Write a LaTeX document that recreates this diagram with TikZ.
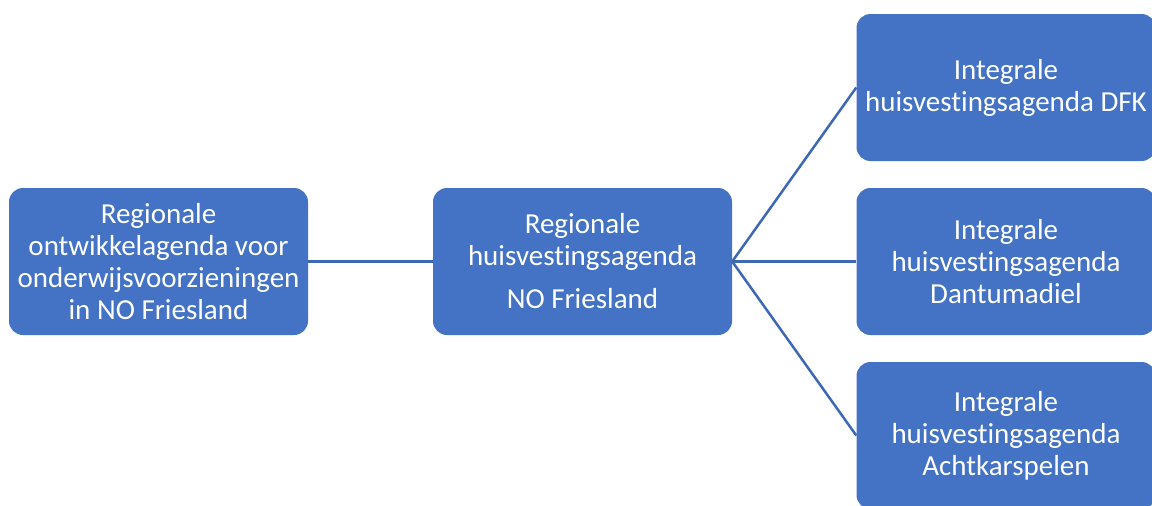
\documentclass[tikz,border=0pt]{standalone}
\usepackage{fontspec}
\setmainfont{Carlito}[Ligatures=NoCommon]
\usepackage{xcolor}

\definecolor{boxblue}{RGB}{68,114,196}
\definecolor{lineblue}{RGB}{62,104,180}

\begin{document}
\begin{tikzpicture}[x=1pt, y=1pt,
    agenda/.style={rectangle, rounded corners=14pt, fill=boxblue, text=white,
      minimum width=299pt, minimum height=147pt, inner sep=0pt, align=center,
      font=\fontsize{29}{32}\selectfont},
    link/.style={draw=lineblue, line width=2.5pt}]
  \useasboundingbox (0,0) rectangle (1152,-506);

  \node[agenda] (region) at (158.5,-261.5) {Regionale\\ontwikkelagenda voor\\onderwijsvoorzieningen\\in NO Friesland};
  \node[agenda] (housing) at (582.5,-261.5) {Regionale\\huisvestingsagenda\\[11pt]NO Friesland};
  \node[agenda] (dfk) at (1006,-87.5) {Integrale\\huisvestingsagenda DFK};
  \node[agenda] (dantumadiel) at (1006,-261.5) {Integrale\\huisvestingsagenda\\Dantumadiel};
  \node[agenda] (achtkarspelen) at (1006,-435.5) {Integrale\\huisvestingsagenda\\Achtkarspelen};

  \draw[link] (region) -- (housing);
  \draw[link] (housing.east) -- (dfk.west);
  \draw[link] (housing.east) -- (dantumadiel.west);
  \draw[link] (housing.east) -- (achtkarspelen.west);
\end{tikzpicture}
\end{document}
